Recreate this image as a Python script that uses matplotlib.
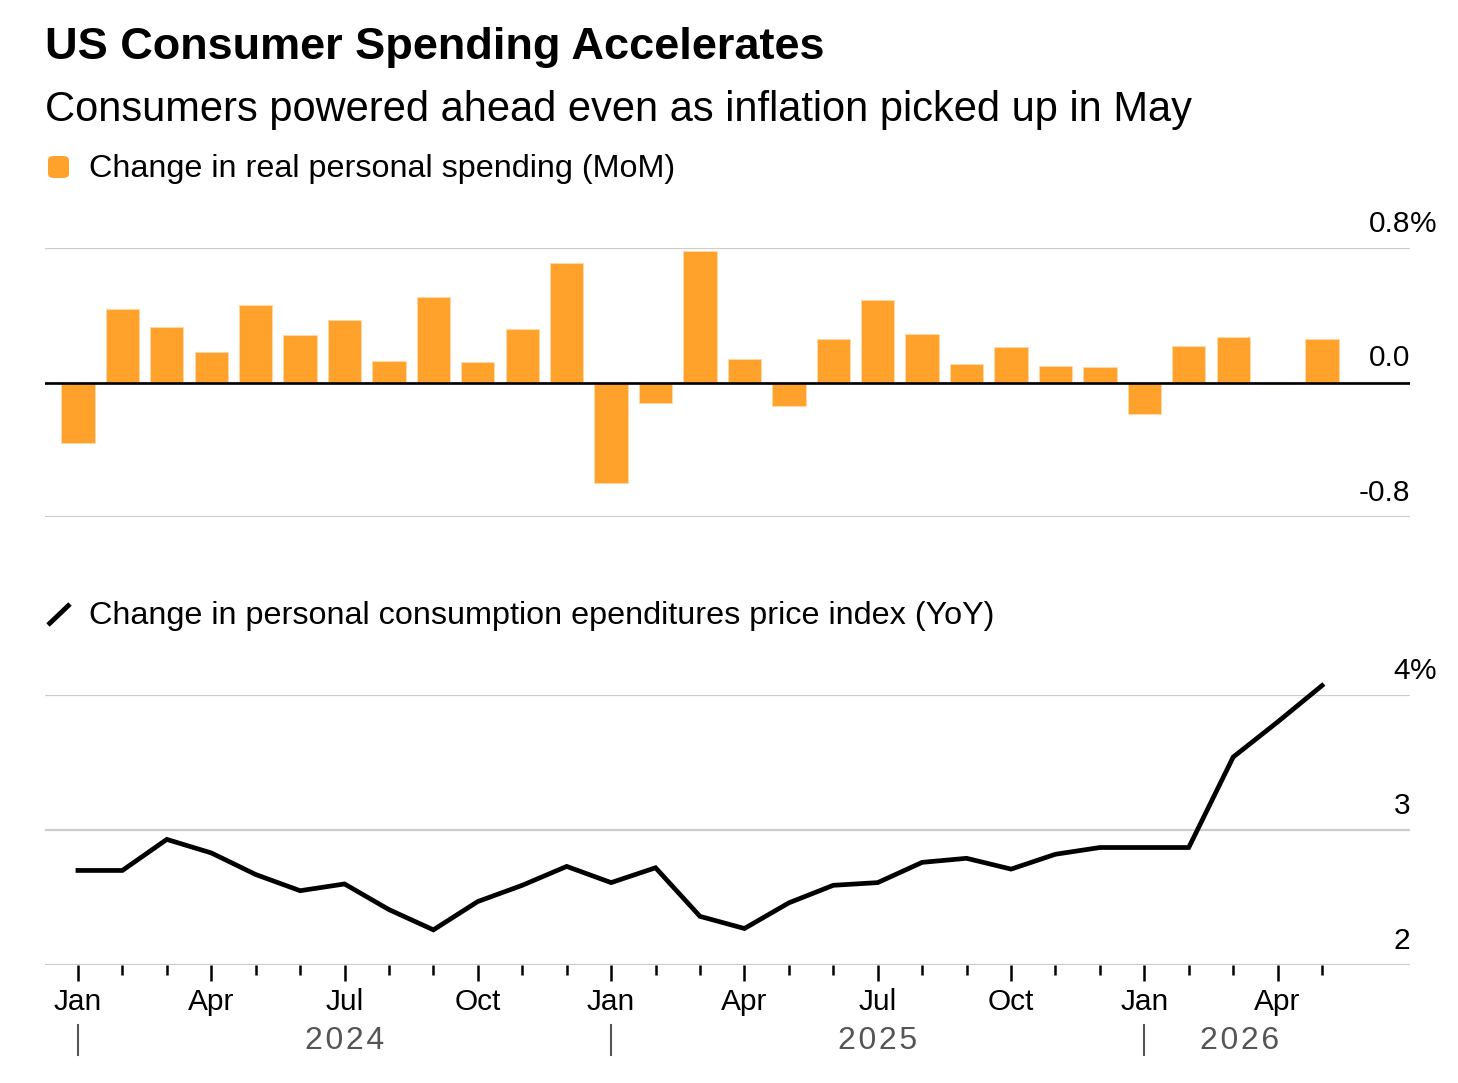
import matplotlib

matplotlib.use('Agg')
import matplotlib.pyplot as plt
from matplotlib.patches import FancyBboxPatch
from matplotlib.lines import Line2D

plt.rcParams['font.family'] = ['Liberation Sans', 'DejaVu Sans']

# monthly data, Jan 2024 - May 2026
months = ['Jan', 'Feb', 'Mar', 'Apr', 'May', 'Jun', 'Jul', 'Aug', 'Sep', 'Oct', 'Nov', 'Dec'] * 2 + \
         ['Jan', 'Feb', 'Mar', 'Apr', 'May']
spending = [-0.36, 0.44, 0.33, 0.18, 0.46, 0.28, 0.37, 0.13, 0.51, 0.12, 0.32, 0.71,
            -0.60, -0.12, 0.78, 0.14, -0.14, 0.26, 0.49, 0.29, 0.11, 0.21, 0.10, 0.09,
            -0.19, 0.22, 0.27, -0.01, 0.26]
pce = [2.70, 2.70, 2.93, 2.83, 2.67, 2.55, 2.60, 2.41, 2.26, 2.47, 2.59, 2.73,
       2.61, 2.72, 2.36, 2.27, 2.46, 2.59, 2.61, 2.76, 2.79, 2.71, 2.82, 2.87,
       2.87, 2.87, 3.54, 3.80, 4.07]
years = ['2024', '2025', '2026']
spend_ticks = [-0.8, 0.0, 0.8]
spend_labels = ['-0.8', '0.0', '0.8']
pce_ticks = [2, 3, 4]
pce_labels = ['2', '3', '4']

ORANGE = '#ffa22c'
GRID = '#cccccc'
LBL = 21.5
x = list(range(len(months)))

fig = plt.figure(figsize=(14.58, 10.83), dpi=100, facecolor='white')

# titles and legend keys
fig.text(0.031, 0.9562, 'US Consumer Spending Accelerates', fontsize=32.5, fontweight='bold', va='center')
fig.text(0.031, 0.8985, 'Consumers powered ahead even as inflation picked up in May', fontsize=30, va='center')
fig.text(0.061, 0.8440, 'Change in real personal spending (MoM)', fontsize=23.3, va='center')
fig.text(0.061, 0.4313, 'Change in personal consumption ependitures price index (YoY)', fontsize=23.3, va='center')
fig.patches.append(FancyBboxPatch((48 / 1458, 1 - 178 / 1083), 21 / 1458, 22 / 1083,
                                  boxstyle='round,pad=0,rounding_size=0.004', transform=fig.transFigure,
                                  facecolor=ORANGE, edgecolor='none'))
fig.lines.append(Line2D([48 / 1458, 70 / 1458], [1 - 625 / 1083, 1 - 604 / 1083], transform=fig.transFigure,
                        color='black', lw=3.5, solid_capstyle='butt'))

# top panel: spending bars
ax1 = fig.add_axes([0.0309, 0.5226, 0.9362, 0.2484])
ax1.bar(x, spending, width=0.75, color=ORANGE, edgecolor='#ffd9a8', linewidth=0.6, zorder=2)
ax1.set_xlim(-0.74, 29.98)
ax1.set_ylim(-0.8, 0.8)
for t in spend_ticks:
    ax1.axhline(t, color=GRID, lw=1.6, zorder=1)
ax1.axhline(0, color='black', lw=1.9, zorder=3)
for t, lab in zip(spend_ticks, spend_labels):
    ax1.annotate(lab, xy=(1.0, t), xycoords=ax1.get_yaxis_transform(), xytext=(0, 7.5),
                 textcoords='offset points', ha='right', va='bottom', fontsize=LBL)
ax1.annotate('%', xy=(1.0, spend_ticks[-1]), xycoords=ax1.get_yaxis_transform(), xytext=(0, 7.5),
             textcoords='offset points', ha='left', va='bottom', fontsize=LBL)
ax1.axis('off')

# bottom panel: PCE line
ax2 = fig.add_axes([0.0309, 0.1090, 0.9362, 0.2493])
ax2.plot(x, pce, color='black', lw=3.4, clip_on=False, zorder=3, solid_joinstyle='miter')
ax2.set_xlim(-0.74, 29.98)
ax2.set_ylim(2, 4)
for t in pce_ticks:
    ax2.axhline(t, color=GRID, lw=1.6, zorder=1)
for t, lab in zip(pce_ticks, pce_labels):
    ax2.annotate(lab, xy=(1.0, t), xycoords=ax2.get_yaxis_transform(), xytext=(0, 7.5),
                 textcoords='offset points', ha='right', va='bottom', fontsize=LBL)
ax2.annotate('%', xy=(1.0, pce_ticks[-1]), xycoords=ax2.get_yaxis_transform(), xytext=(0, 7.5),
             textcoords='offset points', ha='left', va='bottom', fontsize=LBL)
for s in ax2.spines.values():
    s.set_visible(False)
ax2.set_yticks([])
quarter = [i for i in x if i % 3 == 0]
ax2.set_xticks(quarter)
ax2.set_xticklabels([months[i] for i in quarter], fontsize=LBL)
ax2.set_xticks(x, minor=True)
ax2.tick_params(axis='x', which='major', length=11.5, width=1.8, pad=5, color='black')
ax2.tick_params(axis='x', which='minor', length=7, width=1.8, color='black')

# year labels and separators
xt = ax2.get_xaxis_transform()
year_mid = [6, 18, 26.15]
for i, yr in enumerate(years):
    jan = 12 * i
    ax2.plot([jan, jan], [-0.222, -0.333], transform=xt, color='#555555', lw=1.5, clip_on=False)
    ax2.text(year_mid[i], -0.283, '\u200a'.join(yr), transform=xt, ha='center', va='center', fontsize=23,
             color='#555555')

plt.savefig('out.png', dpi=100, facecolor='white')
